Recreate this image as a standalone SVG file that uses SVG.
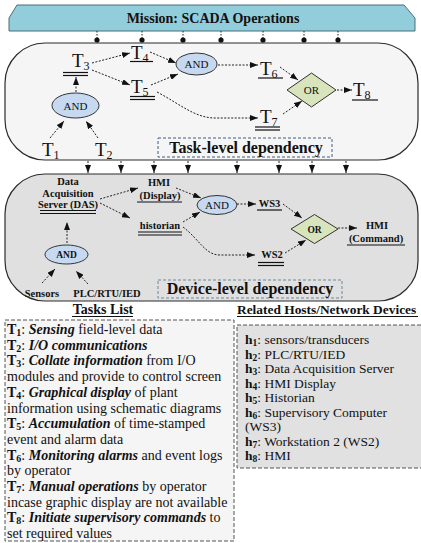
<svg xmlns="http://www.w3.org/2000/svg" width="421" height="543" viewBox="0 0 421 543">
<style>
text{font-family:"Liberation Serif","Times New Roman",serif;fill:#111}
.b{font-weight:bold}
.bi{font-weight:bold;font-style:italic}
.tl{font-size:19px}
.sub{font-size:12px}
.dev{font-size:10.5px;font-weight:bold}
.c{text-anchor:middle}
.conn{fill:none;stroke:#222;stroke-width:1;stroke-dasharray:2 1.5;marker-end:url(#ah)}
.ul{stroke:#111;stroke-width:1.2}
.and{fill:#c6d9f1;stroke:#333;stroke-width:1}
.or{fill:#d8e4bc;stroke:#333;stroke-width:1}
.list{font-size:14px}
.hl{font-size:13.5px}
</style>
<defs>
<marker id="ah" markerUnits="userSpaceOnUse" markerWidth="8" markerHeight="6" refX="8" refY="3" orient="auto">
<path d="M0,0 L8,3 L0,6 z" fill="#111"/>
</marker>
</defs>

<!-- Mission banner -->
<g id="mission">
<polygon points="17,5 404,5 415,18 415,31 9,31 9,18" fill="#92cddc" stroke="#4a6f78" stroke-width="1"/>
<text x="213" y="23" class="b c" font-size="14">Mission: SCADA Operations</text>
</g>

<!-- Task-level panel -->
<g id="task-panel">
<rect x="5" y="43" width="413" height="117" rx="40" ry="40" fill="#f5f5f5" stroke="#2b2b2b" stroke-width="1.2"/>
<rect x="158" y="138" width="174" height="19" fill="none" stroke="#3f5f80" stroke-width="1" stroke-dasharray="3 2"/>
<text x="246" y="153" class="b c" font-size="16">Task-level dependency</text>
</g>

<!-- Device-level panel -->
<g id="device-panel">
<rect x="5" y="174" width="413" height="127" rx="40" ry="40" fill="#e0e0e0" stroke="#2b2b2b" stroke-width="1.2"/>
<rect x="158" y="280" width="184" height="18" fill="none" stroke="#6a8a9a" stroke-width="1" stroke-dasharray="3 2"/>
<text x="250" y="293.5" class="b c" font-size="16">Device-level dependency</text>
</g>

<!-- Task nodes -->
<g id="T1"><text x="42" y="156" class="tl">T<tspan class="sub" dy="3">1</tspan></text></g>
<g id="T2"><text x="95" y="156" class="tl">T<tspan class="sub" dy="3">2</tspan></text></g>
<g id="T3"><text x="72" y="67" class="tl">T<tspan class="sub" dy="3">3</tspan></text>
<line x1="63" y1="72.5" x2="88" y2="72.5" class="ul"/><line x1="63" y1="75.5" x2="88" y2="75.5" class="ul"/></g>
<g id="T4"><text x="131" y="59" class="tl">T<tspan class="sub" dy="3">4</tspan></text>
<line x1="130" y1="61.5" x2="153" y2="61.5" class="ul"/></g>
<g id="T5"><text x="131" y="93" class="tl">T<tspan class="sub" dy="3">5</tspan></text>
<line x1="130" y1="96.5" x2="155" y2="96.5" class="ul"/><line x1="130" y1="99.5" x2="155" y2="99.5" class="ul"/></g>
<g id="T6"><text x="260" y="75" class="tl">T<tspan class="sub" dy="3">6</tspan></text>
<line x1="258" y1="78" x2="283" y2="78" class="ul"/></g>
<g id="T7"><text x="260" y="123" class="tl">T<tspan class="sub" dy="3">7</tspan></text>
<line x1="255" y1="127" x2="280" y2="127" class="ul"/><line x1="255" y1="130" x2="280" y2="130" class="ul"/></g>
<g id="T8"><text x="353" y="96" class="tl">T<tspan class="sub" dy="3">8</tspan></text>
<line x1="352" y1="100" x2="378" y2="100" class="ul"/></g>
<g id="task-and1"><ellipse cx="75.5" cy="105.5" rx="23.5" ry="12.5" class="and"/><text x="75.5" y="109.5" class="c" font-size="11">AND</text></g>
<g id="task-and2"><ellipse cx="196.5" cy="64" rx="20.5" ry="11" class="and"/><text x="196.5" y="68" class="c" font-size="11">AND</text></g>
<g id="task-or"><polygon points="287,90 311.5,73 336,90 311.5,107" class="or"/><text x="311.5" y="94" class="c" font-size="11">OR</text></g>

<!-- Device nodes -->
<g id="DAS">
<text x="68" y="185" class="dev c" font-size="10">Data</text>
<text x="68" y="197" class="dev c">Acquisition</text>
<text x="68" y="207.5" class="dev c">Server (DAS)</text>
<line x1="40" y1="210.5" x2="96" y2="210.5" class="ul"/><line x1="40" y1="213.5" x2="96" y2="213.5" class="ul"/>
</g>
<g id="HMI-display">
<text x="159" y="186" class="dev c">HMI</text>
<text x="160" y="199" class="dev c">(Display)</text>
<line x1="137" y1="202" x2="182" y2="202" class="ul"/>
</g>
<g id="historian">
<text x="160" y="229" class="dev c">historian</text>
<line x1="138" y1="232" x2="182" y2="232" class="ul"/><line x1="138" y1="235" x2="182" y2="235" class="ul"/>
</g>
<g id="WS3"><text x="269.5" y="207" class="dev c">WS3</text><line x1="257" y1="210" x2="282" y2="210" class="ul"/></g>
<g id="WS2"><text x="272" y="258" class="dev c">WS2</text>
<line x1="258" y1="262.5" x2="284" y2="262.5" class="ul"/><line x1="258" y1="265.5" x2="284" y2="265.5" class="ul"/></g>
<g id="HMI-command">
<text x="377" y="229" class="dev c">HMI</text>
<text x="376" y="242" class="dev c">(Command)</text>
<line x1="347" y1="245" x2="405" y2="245" class="ul"/>
</g>
<g id="sensors"><text x="42" y="297" class="dev c">Sensors</text></g>
<g id="plc"><text x="107" y="297" class="dev c">PLC/RTU/IED</text></g>
<g id="dev-and1"><ellipse cx="66.5" cy="254.5" rx="21.5" ry="9.5" class="and"/><text x="66.5" y="258" class="b c" font-size="9.5">AND</text></g>
<g id="dev-and2"><ellipse cx="217" cy="205" rx="20" ry="9.5" class="and"/><text x="217" y="209" class="c" font-size="11">AND</text></g>
<g id="dev-or"><polygon points="291,229 314.5,214.5 338,229 314.5,243.5" class="or"/><text x="314.5" y="232.5" class="b c" font-size="9.5">OR</text></g>

<!-- Connectors -->
<g id="connectors">
<g fill="#111">
<circle cx="97" cy="40" r="2.6"/><circle cx="142" cy="40" r="2.6"/><circle cx="183" cy="40" r="2.6"/><circle cx="221" cy="40" r="2.6"/><circle cx="263" cy="40" r="2.6"/><circle cx="304" cy="40" r="2.6"/><circle cx="338" cy="40" r="2.6"/>
</g>
<g stroke="#222" stroke-width="1" stroke-dasharray="1.5 1.5">
<line x1="97" y1="31" x2="97" y2="38"/><line x1="142" y1="31" x2="142" y2="38"/><line x1="183" y1="31" x2="183" y2="38"/><line x1="221" y1="31" x2="221" y2="38"/><line x1="263" y1="31" x2="263" y2="38"/><line x1="304" y1="31" x2="304" y2="38"/><line x1="338" y1="31" x2="338" y2="38"/>
</g>
<line x1="88" y1="161" x2="88" y2="173" class="conn"/>
<line x1="121" y1="161" x2="121" y2="173" class="conn"/>
<line x1="154" y1="161" x2="154" y2="173" class="conn"/>
<line x1="188" y1="161" x2="188" y2="173" class="conn"/>
<line x1="237" y1="161" x2="237" y2="173" class="conn"/>
<line x1="279" y1="161" x2="279" y2="173" class="conn"/>
<line x1="312" y1="161" x2="312" y2="173" class="conn"/>
<line x1="346" y1="161" x2="346" y2="173" class="conn"/>
<!-- task level -->
<line x1="50" y1="138" x2="64" y2="121" class="conn"/>
<line x1="98" y1="138" x2="86" y2="121" class="conn"/>
<line x1="76" y1="92" x2="76" y2="77" class="conn"/>
<line x1="92" y1="63" x2="130" y2="53" class="conn"/>
<line x1="92" y1="70" x2="130" y2="85" class="conn"/>
<line x1="150" y1="52" x2="176" y2="63" class="conn"/>
<line x1="151" y1="85" x2="178" y2="74" class="conn"/>
<line x1="218" y1="65" x2="258" y2="65" class="conn"/>
<line x1="280" y1="67" x2="298" y2="80" class="conn"/>
<line x1="283" y1="114" x2="302" y2="101" class="conn"/>
<line x1="337" y1="90" x2="352" y2="90" class="conn"/>
<path d="M157,92 C180,104 195,118 215,118 L258,118" class="conn"/>
<!-- device level -->
<line x1="100" y1="199" x2="138" y2="188" class="conn"/>
<line x1="100" y1="203" x2="130" y2="218" class="conn"/>
<line x1="176" y1="188" x2="201" y2="198" class="conn"/>
<line x1="183" y1="222" x2="200" y2="212" class="conn"/>
<line x1="237" y1="204" x2="256" y2="204" class="conn"/>
<line x1="283" y1="204" x2="302" y2="218" class="conn"/>
<line x1="285" y1="253" x2="306" y2="240" class="conn"/>
<line x1="338" y1="228" x2="357" y2="228" class="conn"/>
<path d="M183,227 C200,240 205,255 220,255 L255,255" class="conn"/>
<line x1="67" y1="243" x2="67" y2="222" class="conn"/>
<line x1="42" y1="283" x2="55" y2="269" class="conn"/>
<line x1="88" y1="284" x2="76" y2="271" class="conn"/>
</g>

<!-- Tasks list -->
<g id="tasks-list">
<text x="103" y="314" class="b c" font-size="14">Tasks List</text>
<line x1="72" y1="316.5" x2="133" y2="316.5" class="ul"/>
<rect x="5" y="320" width="229" height="221" fill="#f5f5f5" stroke="#555" stroke-width="1" stroke-dasharray="4 2"/>
<g class="list">
<text x="7" y="334"><tspan class="b">T<tspan font-size="10" dy="2">1</tspan></tspan><tspan dy="-2">: </tspan><tspan class="bi">Sensing</tspan> field-level data</text>
<text x="7" y="349.7"><tspan class="b">T<tspan font-size="10" dy="2">2</tspan></tspan><tspan dy="-2">: </tspan><tspan class="bi">I/O communications</tspan></text>
<text x="7" y="365.4"><tspan class="b">T<tspan font-size="10" dy="2">3</tspan></tspan><tspan dy="-2">: </tspan><tspan class="bi">Collate information</tspan> from I/O</text>
<text x="7" y="381.1">modules and provide to control screen</text>
<text x="7" y="396.8"><tspan class="b">T<tspan font-size="10" dy="2">4</tspan></tspan><tspan dy="-2">: </tspan><tspan class="bi">Graphical display</tspan> of plant</text>
<text x="7" y="412.5">information using schematic diagrams</text>
<text x="7" y="428.2"><tspan class="b">T<tspan font-size="10" dy="2">5</tspan></tspan><tspan dy="-2">: </tspan><tspan class="bi">Accumulation</tspan> of time-stamped</text>
<text x="7" y="443.9">event and alarm data</text>
<text x="7" y="459.6"><tspan class="b">T<tspan font-size="10" dy="2">6</tspan></tspan><tspan dy="-2">: </tspan><tspan class="bi">Monitoring alarms</tspan> and event logs</text>
<text x="7" y="475.3">by operator</text>
<text x="7" y="491"><tspan class="b">T<tspan font-size="10" dy="2">7</tspan></tspan><tspan dy="-2">: </tspan><tspan class="bi">Manual operations</tspan> by operator</text>
<text x="7" y="506.7">incase graphic display are not available</text>
<text x="7" y="522.4"><tspan class="b">T<tspan font-size="10" dy="2">8</tspan></tspan><tspan dy="-2">: </tspan><tspan class="bi">Initiate supervisory commands</tspan> to</text>
<text x="7" y="538.1">set required values</text>
</g>
</g>

<!-- Hosts list -->
<g id="hosts-list">
<text x="237" y="314" class="b" font-size="13.4">Related Hosts/Network Devices</text>
<line x1="237" y1="316.5" x2="418" y2="316.5" class="ul"/>
<rect x="237" y="325" width="190" height="143" fill="#e1e1e1" stroke="#555" stroke-width="1" stroke-dasharray="4 2"/>
<g class="hl">
<text x="245" y="344"><tspan class="b">h<tspan font-size="9.5" dy="2">1</tspan></tspan><tspan dy="-2">: sensors/transducers</tspan></text>
<text x="245" y="358.5"><tspan class="b">h<tspan font-size="9.5" dy="2">2</tspan></tspan><tspan dy="-2">: PLC/RTU/IED</tspan></text>
<text x="245" y="373"><tspan class="b">h<tspan font-size="9.5" dy="2">3</tspan></tspan><tspan dy="-2">: Data Acquisition Server</tspan></text>
<text x="245" y="387.5"><tspan class="b">h<tspan font-size="9.5" dy="2">4</tspan></tspan><tspan dy="-2">: HMI Display</tspan></text>
<text x="245" y="402"><tspan class="b">h<tspan font-size="9.5" dy="2">5</tspan></tspan><tspan dy="-2">: Historian</tspan></text>
<text x="245" y="416.5"><tspan class="b">h<tspan font-size="9.5" dy="2">6</tspan></tspan><tspan dy="-2">: Supervisory Computer</tspan></text>
<text x="245" y="431">(WS3)</text>
<text x="245" y="445.5"><tspan class="b">h<tspan font-size="9.5" dy="2">7</tspan></tspan><tspan dy="-2">: Workstation 2 (WS2)</tspan></text>
<text x="245" y="460"><tspan class="b">h<tspan font-size="9.5" dy="2">8</tspan></tspan><tspan dy="-2">: HMI</tspan></text>
</g>
</g>
</svg>
